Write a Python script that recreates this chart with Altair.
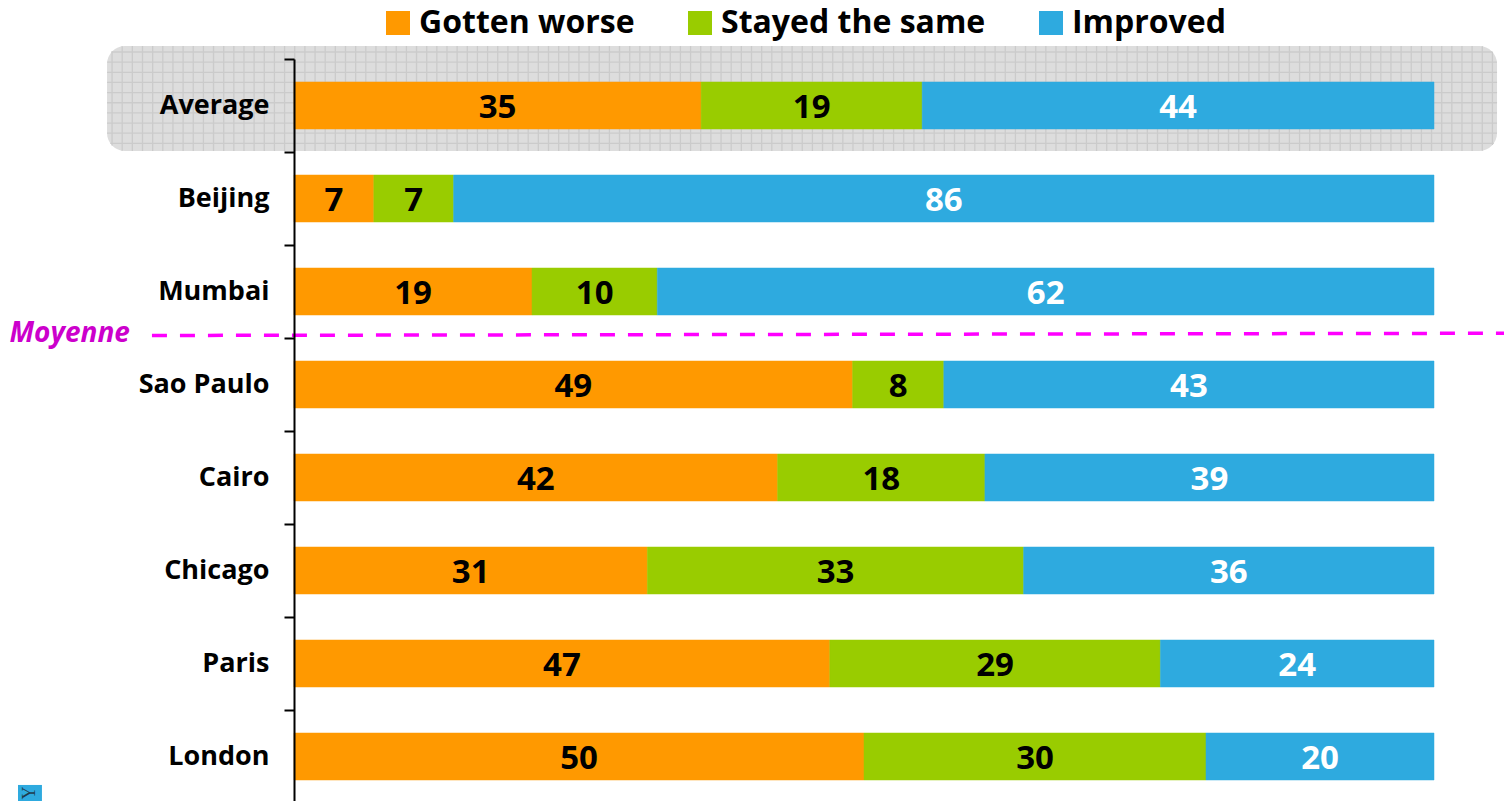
import altair as alt
import numpy as np
import pandas as pd

cities = ["Average", "Beijing", "Mumbai", "Sao Paulo", "Cairo", "Chicago", "Paris", "London"]
worse = [35, 7, 19, 49, 42, 31, 47, 50]
same = [19, 7, 10, 8, 18, 33, 29, 30]
improved = [44, 86, 62, 43, 39, 36, 24, 20]
series = ["Gotten worse", "Stayed the same", "Improved"]
colors = ["#FF9900", "#99CC00", "#2EAADF"]
label_colors = ["black", "black", "white"]

FONT = "Open Sans"
rows = []
for i, c in enumerate(cities):
    vals = [worse[i], same[i], improved[i]]
    tot = sum(vals)
    cum = 0
    for s, v, lc in zip(series, vals, label_colors):
        rows.append({"city": c, "series": s, "value": v, "x0": cum / tot,
                     "x1": (cum + v) / tot, "mid": (cum + v / 2) / tot, "lc": lc})
        cum += v
df = pd.DataFrame(rows)

W, H = 1210, 742
xu, yu = 1140.0, 93.0
xs = alt.Scale(domain=[0, W / xu], nice=False, zero=False)
X = lambda f: alt.X(f, type="quantitative", scale=xs, axis=None, title=None)
X2 = lambda f: alt.X2(f)
band = alt.Scale(domain=cities, range=[0, 744], paddingInner=0, paddingOuter=0)
rowscale = alt.Scale(domain=[0, H / yu], reverse=True, nice=False, zero=False)
RY = lambda f: alt.Y(f, type="quantitative", scale=rowscale, axis=None, title=None)

# highlight panel behind the "Average" row
px0, px1, py0, py1 = -0.164, 1.0553, -0.14, 0.989
rad = 18.0
panel = alt.Chart(pd.DataFrame({"a": [px0], "b": [px1], "c": [py0], "d": [py1]})).mark_rect(
    fill="#DDDDDD", cornerRadius=18).encode(x=X("a"), x2=X2("b"), y=RY("c"), y2=alt.Y2("d"))

def inset(dist):
    if dist >= rad:
        return 0.0
    return rad - np.sqrt(rad ** 2 - (rad - dist) ** 2)

v = []
for gx in np.arange(px0 + 5 / xu, px1, 10.15 / xu):
    d = min(gx - px0, px1 - gx) * xu
    off = inset(d) / yu
    v.append({"x": gx, "y": py0 + off, "y2": py1 - off})
h = []
for gy in np.arange(py0 + 6 / yu, py1, 10.15 / yu):
    d = min(gy - py0, py1 - gy) * yu
    off = inset(d) / xu
    h.append({"y": gy, "x": px0 + off, "x2": px1 - off})
vr = alt.Chart(pd.DataFrame(v)).mark_rule(color="#CBCBCB", strokeWidth=1.3).encode(
    x=X("x"), y=RY("y"), y2=alt.Y2("y2"))
hr = alt.Chart(pd.DataFrame(h)).mark_rule(color="#CBCBCB", strokeWidth=1.3).encode(
    y=RY("y"), x=X("x"), x2=X2("x2"))
panel_layer = alt.layer(panel, vr, hr)

bars = alt.Chart(df).mark_bar(height=47, strokeWidth=0.5).encode(
    x=X("x0"), x2=X2("x1"),
    y=alt.Y("city:N", scale=band, sort=cities, title=None,
            axis=alt.Axis(tickBand="extent", zindex=1, grid=False, domainColor="black", domainWidth=2,
                          tickColor="black", tickWidth=2, tickSize=10, labelPadding=15,
                          labelColor="black", labelFont=FONT, labelFontWeight="bold", labelFontSize=27,
                          labelLimit=250)),
    color=alt.Color("series:N", scale=alt.Scale(domain=series, range=colors), sort=series, title=None,
                    legend=alt.Legend(orient="none", legendX=88, legendY=-52, direction="horizontal",
                                      columns=3, gridAlign="none", columnPadding=49,
                                      symbolType="square", symbolSize=576, symbolStrokeWidth=0,
                                      symbolOpacity=1, labelOffset=5, labelFont=FONT, labelFontWeight="bold",
                                      labelFontSize=32, labelColor="black", labelLimit=400, padding=0)),
    stroke=alt.Stroke("series:N", scale=alt.Scale(domain=series, range=colors), sort=series, legend=None),
)
texts = alt.Chart(df).mark_text(font=FONT, fontWeight="bold", fontSize=33, baseline="middle", dy=2).encode(
    x=X("mid"), y=alt.Y("city:N", scale=band, sort=cities, axis=None, title=None),
    text=alt.Text("value:Q"), color=alt.Color("lc:N", scale=None),
)

moy_line = alt.Chart(pd.DataFrame({"x": [-0.1246, W / xu], "y": [2.973, 2.949]})).mark_line(
    color="#FF00FF", strokeWidth=3.5, strokeDash=[15, 13], clip=False).encode(x=X("x"), y=RY("y"))
moy_text = alt.Chart(pd.DataFrame({"x": [-0.1439], "y": [2.957], "t": ["Moyenne"]})).mark_text(
    font=FONT, fontWeight="bold", fontStyle="italic", fontSize=28, color="#CC00CC", align="right",
    baseline="middle").encode(x=X("x"), y=RY("y"), text="t:N")

icon = alt.Chart(pd.DataFrame({"a": [-0.2421], "b": [-0.2211], "c": [7.806], "d": [H / yu]})).mark_rect(
    fill="#2EAADF").encode(x=X("a"), x2=X2("b"), y=RY("c"), y2=alt.Y2("d"))
icon_t = alt.Chart(pd.DataFrame({"x": [-0.2316], "y": [7.892], "t": ["Y"]})).mark_text(
    font="Liberation Serif", fontSize=18, angle=270, color="#1F3B4D", align="center",
    baseline="middle").encode(x=X("x"), y=RY("y"), text="t:N")

chart = alt.layer(
    panel_layer, bars, texts, moy_line, moy_text, icon, icon_t
).resolve_scale(y="independent", color="independent", stroke="independent").properties(
    width=W, height=H,
    padding={"left": 286, "top": 51, "right": 0, "bottom": 0},
    autosize=alt.AutoSizeParams(type="none"),
).configure_view(stroke=None)

chart.save("out.html", embed_options={"renderer": "svg", "actions": False})
